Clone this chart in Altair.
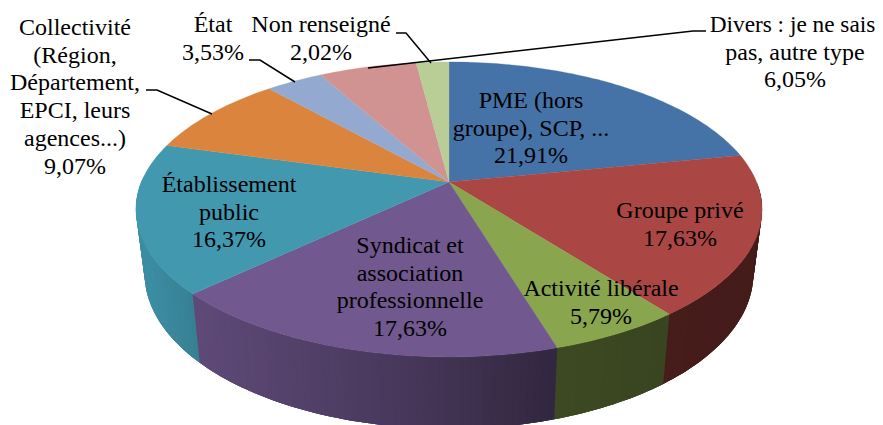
import numpy as np
import altair as alt

categories = ["PME (hors groupe), SCP, ...", "Groupe privé", "Activité libérale",
              "Syndicat et association professionnelle", "Établissement public",
              "Collectivité (Région, Département, EPCI, leurs agences...)", "État",
              "Divers : je ne sais pas, autre type", "Non renseigné"]
values = [21.91, 17.63, 5.79, 17.63, 16.37, 9.07, 3.53, 6.05, 2.02]
colors = ["#4572A7", "#AA4643", "#89A54E", "#71588F", "#4198AF",
          "#DB843D", "#93A9CF", "#D19392", "#B9CD96"]
label_lines = [
    ["PME (hors", "groupe), SCP, ...", "21,91%"],
    ["Groupe privé", "17,63%"],
    ["Activité libérale", "5,79%"],
    ["Syndicat et", "association", "professionnelle", "17,63%"],
    ["Établissement", "public", "16,37%"],
    ["Collectivité", "(Région,", "Département,", "EPCI, leurs", "agences...)", "9,07%"],
    ["État", "3,53%"],
    ["Divers : je ne sais", "pas, autre type", "6,05%"],
    ["Non renseigné", "2,02%"],
]

# ---- layout (page pixels) ----
OFF = 8
CX, CY, A, B, P = 449.0, 182.0, 307.6, 142.4, 0.186
label_anchor = [(531, 108), (680, 218), (601, 296), (410, 253), (229, 192),
                (75, 35), (213, 32), (795, 32), (321, 32)]
LINE = 27.7
FONT = 24
# the first Divers line sits at the very edge of the page: tightened slightly so it stays whole
line_adjust = {"Divers : je ne sais": (-2.5, 23.3)}
leaders = [
    [(146, 90), (157, 90), (212, 114)],
    [(249, 60), (260, 60), (295, 82)],
    [(396, 33), (406, 33), (431, 63)],
    [(706, 31), (693, 31), (368, 68)],
]


def top(theta):
    u, v = np.sin(theta), -np.cos(theta)
    d = 1 - P * v
    return CX + A * u / d, CY + B * v / d


def bottom(theta):
    x, y = top(theta)
    return CX + 0.972 * (x - CX), y + 64 + (y - 200) * 0.05


def shade(hex_color, f):
    r, g, b = (int(hex_color[i:i + 2], 16) for i in (1, 3, 5))
    return "#%02x%02x%02x" % (int(r * f), int(g * f), int(b * f))


def wall_factor(x):
    return np.interp(x, [147, 195, 400, 553, 663, 760], [.93, .84, .64, .45, .42, .40])


def feature(points, fill):
    ring = [[float(x) - OFF, float(y) - OFF] for x, y in points]
    ring.append(ring[0])
    return {"type": "Feature", "properties": {"fill": fill},
            "geometry": {"type": "Polygon", "coordinates": [ring]}}


edges = np.cumsum([0] + values) / sum(values) * 2 * np.pi
walls, tops = [], []
for i, color in enumerate(colors):
    a0, a1 = edges[i], edges[i + 1]
    steps = max(int((a1 - a0) / 0.02), 2)
    ts = np.linspace(a0, a1, steps + 1)
    for t0, t1 in zip(ts[:-1], ts[1:]):
        if -np.cos((t0 + t1) / 2) > 0:
            xm = top((t0 + t1) / 2)[0]
            t2 = t1 + 2 * (t1 - t0)  # overlap into the next strip to hide seams
            mid = np.linspace(t0, t2, 4)
            walls.append(feature([top(t) for t in mid] + [bottom(t) for t in mid[::-1]],
                                 shade(color, float(wall_factor(xm)))))
    tops.append(feature([(CX, CY)] + [top(t) for t in ts], color))


def shapes(features, width):
    return (alt.Chart(alt.Data(values=features))
            .mark_geoshape(strokeWidth=width)
            .encode(fill=alt.Fill("properties.fill:N", scale=None),
                    stroke=alt.Stroke("properties.fill:N", scale=None))
            .project(type="identity", scale=1, translate=[0, 0]))


rows = []
for lines, (x, y) in zip(label_lines, label_anchor):
    for j, line in enumerate(lines):
        dx, fs = line_adjust.get(line, (0, FONT))
        rows.append({"t": line, "x": x + dx - OFF, "y": y + j * LINE - OFF, "s": fs})
text = (alt.Chart(alt.Data(values=rows))
        .mark_text(font="Liberation Serif", color="#000000",
                   align="center", baseline="alphabetic")
        .encode(x=alt.X("x:Q", scale=None), y=alt.Y("y:Q", scale=None), text="t:N",
                size=alt.Size("s:Q", scale=None)))

lrows = []
for k, pts in enumerate(leaders):
    for n, (x, y) in enumerate(pts):
        lrows.append({"k": k, "n": n, "x": x - OFF, "y": y - OFF})
lead = (alt.Chart(alt.Data(values=lrows))
        .mark_line(color="#000000", strokeWidth=1.5)
        .encode(x=alt.X("x:Q", scale=None), y=alt.Y("y:Q", scale=None),
                detail="k:N", order="n:Q"))

chart = (alt.layer(shapes(walls, 0), shapes(tops, 0.3), lead, text)
         .properties(width=867, height=417, padding=0, background="white",
                     autosize=alt.AutoSizeParams(type="none"))
         .configure_view(stroke=None))
chart.save("out.html", embed_options={"renderer": "svg", "actions": False})
